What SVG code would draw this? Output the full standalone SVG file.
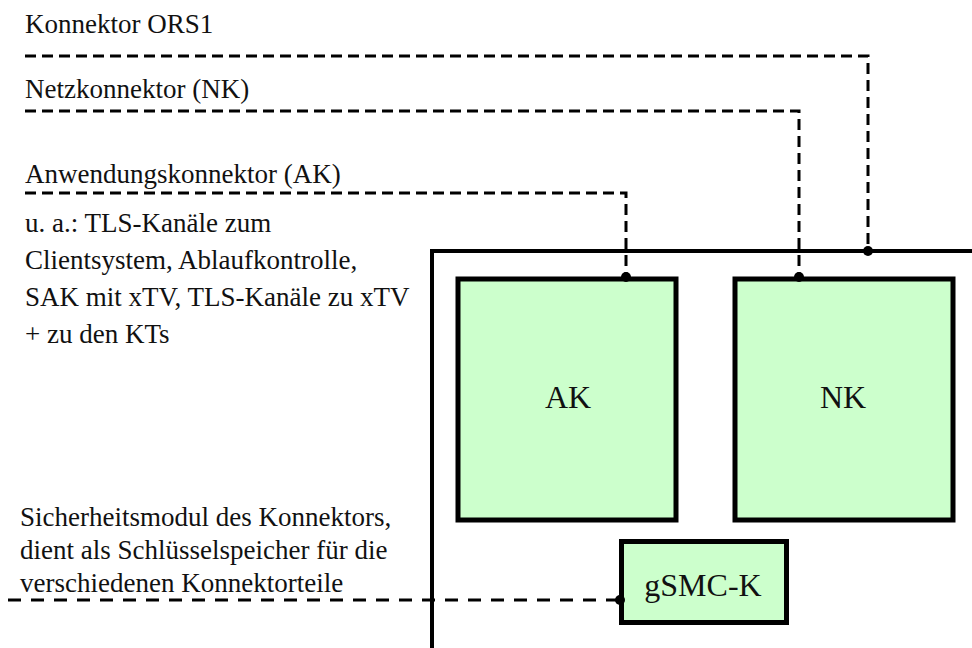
<svg xmlns="http://www.w3.org/2000/svg" width="972" height="648" viewBox="0 0 972 648">
<style>
.t{font-family:"Times New Roman","Liberation Serif",Tinos,Times,serif;font-size:27px;fill:#111}
.lbl{font-family:"Times New Roman","Liberation Serif",Tinos,Times,serif;font-size:32px;fill:#111;text-anchor:middle}
.box{fill:#ccffcc;stroke:#000;stroke-width:5}
.dash{fill:none;stroke:#000;stroke-width:3;stroke-dasharray:11 6}
.dash2{fill:none;stroke:#000;stroke-width:3;stroke-dasharray:13 10}
.solid{fill:none;stroke:#000;stroke-width:4}
</style>
<rect width="972" height="648" fill="#fff"/>
<g id="konnektor-frame">
<polyline class="solid" points="432,648 432,251 972,251"/>
</g>
<g id="AK">
<rect class="box" x="458" y="279" width="218" height="241"/>
<text class="lbl" x="568" y="408" font-family="Times New Roman, Liberation Serif, serif">AK</text>
</g>
<g id="NK">
<rect class="box" x="735" y="279" width="218" height="241"/>
<text class="lbl" x="843" y="408">NK</text>
</g>
<g id="gSMC-K">
<rect class="box" x="621.5" y="541.5" width="165" height="81"/>
<text class="lbl" x="703" y="596">gSMC-K</text>
</g>
<g id="labels">
<text class="t" x="25" y="33">Konnektor ORS1</text>
<text class="t" x="25" y="98">Netzkonnektor (NK)</text>
<text class="t" x="25" y="183">Anwendungskonnektor (AK)</text>
<text class="t" x="25" y="232">u. a.: TLS-Kanäle zum</text>
<text class="t" x="25" y="269">Clientsystem, Ablaufkontrolle,</text>
<text class="t" x="25" y="306">SAK mit xTV, TLS-Kanäle zu xTV</text>
<text class="t" x="25" y="343">+ zu den KTs</text>
<text class="t" x="20" y="526">Sicherheitsmodul des Konnektors,</text>
<text class="t" x="20" y="559">dient als Schlüsselspeicher für die</text>
<text class="t" x="20" y="592">verschiedenen Konnektorteile</text>
</g>
<g id="connectors">
<polyline class="dash" points="25,56 868,56 868,251"/>
<polyline class="dash" points="25,111 799,111 799,277"/>
<polyline class="dash" points="25,193 626,193 626,277"/>
<polyline class="dash2" points="8,600 620,600"/>
<circle cx="868" cy="251" r="5"/>
<circle cx="799" cy="277" r="5"/>
<circle cx="626" cy="277" r="5"/>
<circle cx="620" cy="600" r="5"/>
</g>
</svg>
